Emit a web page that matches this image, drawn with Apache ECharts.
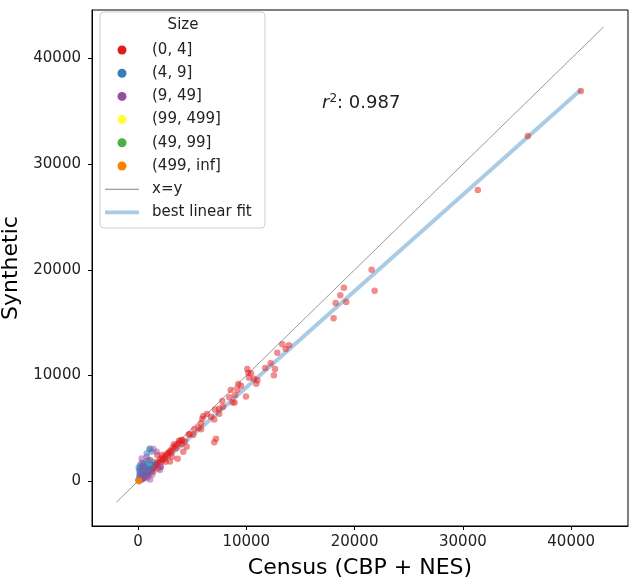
<!DOCTYPE html>
<html>
<head>
<meta charset="utf-8">
<script src="https://cdn.jsdelivr.net/npm/echarts@6/dist/echarts.min.js"></script>
<style>
  html, body { margin: 0; padding: 0; background: #ffffff; }
  #chart { width: 630px; height: 584px; }
</style>
</head>
<body>
<div id="chart"></div>
<script>
// ---------------- data ----------------
const sizeCategories = ['(0, 4]', '(4, 9]', '(9, 49]', '(99, 499]', '(49, 99]', '(499, inf]'];
const categoryColors = ['#e41a1c', '#377eb8', '#984ea3', '#ffff33', '#4daf4a', '#ff7f00'];

const points_0_4 = [
  [40900,36930],[36000,32670],[31380,27560],[21570,20010],[21850,18020],[19010,18310],
  [18680,17590],[18250,16860],[19230,16950],[18060,15410],[13320,12950],[13940,12850],
  [13630,12500],[12860,12150],[11750,10700],[12250,11150],[12650,10610],[12550,10010],
  [10090,10610],[10180,10260],[10430,10200],[10250,9790],[10710,9690],[11020,9540],
  [10920,9220],[9970,8020],[9510,9030],[9260,9190],[9170,8650],[8560,8620],[8430,7930],
  [8950,8120],[8740,7450],[8920,7450],[7780,7580],[7850,7040],[7480,6850],[7110,6790],
  [7500,6370],[7040,5840],[6740,6090],[6030,6160],[5940,5900],[6370,6350],[5820,5460],
  [5570,5080],[5200,4900],[4770,4450],[5110,4380],[5820,4920],[7040,3690],[7200,4010],
  [4340,3760],[4030,3500],[4680,4420],[4090,3880],[3780,3820],[3320,3500],[3510,3100],
  [3660,2110],[3140,2300],[2890,2680],[2490,2140],[2220,2460],[1780,2460],[2030,1830],
  [1570,1520],[1110,1990],[1880,1200],[2090,1360],[2550,1830],[2950,1860],[1420,920],
  [950,570],[650,350],[340,160],[4180,2780],[4490,3250],
  [500,480],[800,760],[1000,1050],[1200,1150],[1400,1300],[1600,1650],[1800,1750],
  [2000,2050],[2200,2150],[2400,2300],[2600,2550],[2800,2700],[3000,2900],[3200,3150],
  [3400,3300],[3600,3500],[3800,3650],[4000,3900],[2300,2000],[2700,2400],[3100,2800],
  [1300,1100],[1700,1500],[900,800],[600,600],[300,320],[200,150],[100,80]
];
const points_4_9 = [
  [1110,3090],[1260,2780],[1040,3000],[800,2620],[950,1990],[1420,1830],[490,1680],
  [340,1350],[180,1520],[650,1350],[1110,1520],[800,1830],[180,1200],[340,880],
  [650,880],[950,1040],[1260,1200],[120,570],[490,570],[30,95],[300,300],[200,700],
  [100,1000],[400,1100],[700,700],[250,400],[550,250],[150,200],[850,1300],[1100,800],
  [600,1600],[1300,1500],[400,1400],[60,1300],[800,1100]
];
const points_9_49 = [
  [340,2150],[1720,2780],[1420,3030],[800,2300],[340,1730],[2030,1040],[1110,160],
  [890,350],[200,900],[500,1300],[700,500],[1300,600],[150,400],[400,200],[1000,1100],[2100,1360]
];
const points_99_499 = [[40,60]];
const points_49_99 = [[60,40]];
const points_499_inf = [[80,30],[60,20],[100,50]];

const identityLine = [[-2000,-2000],[43000,43000]];
const fitLine = [[0,-250],[40900,37050]];
const rSquared = '0.987';

const xTitle = 'Census (CBP + NES)';
const yTitle = 'Synthetic';

// ---------------- chart ----------------
const FONT = 'DejaVu Sans';
const chart = echarts.init(document.getElementById('chart'), null, {renderer: 'canvas'});

const groups = [points_0_4, points_4_9, points_9_49, points_99_499, points_49_99, points_499_inf];
const zOrder = [3, 4, 5, 2, 2, 6];

const scatterSeries = groups.map((d, i) => ({
  name: sizeCategories[i],
  type: 'scatter',
  data: d,
  symbol: 'circle',
  symbolSize: 6.5,
  z: zOrder[i],
  itemStyle: { color: categoryColors[i], opacity: 0.5 },
  emphasis: { disabled: true },
  animation: false
}));

const axisCommon = {
  type: 'value', splitNumber: 5, nameLocation: 'middle',
  nameTextStyle: { fontFamily: FONT, fontSize: 22, color: '#000' },
  axisLine: { onZero: false, lineStyle: { color: '#000', width: 1 } },
  axisTick: { show: true, length: 4, lineStyle: { color: '#000' } },
  splitLine: { show: false }
};

const option = {
  animation: false,
  textStyle: { fontFamily: FONT },
  grid: { left: 92, right: 2, top: 10, bottom: 58, containLabel: false, outerBoundsMode: 'none',
    show: true, borderColor: '#000', borderWidth: 1, backgroundColor: 'transparent' },
  xAxis: Object.assign({}, axisCommon, {
    min: -4250, max: 45250, name: xTitle, nameGap: 31,
    axisLabel: { fontFamily: FONT, fontSize: 15, color: '#222', margin: 9, showMinLabel: false, showMaxLabel: false,
      formatter: v => (v % 10000 === 0 ? String(v) : '') }
  }),
  yAxis: Object.assign({}, axisCommon, {
    min: -4250, max: 44600, name: yTitle, nameGap: 59,
    axisLabel: { fontFamily: FONT, fontSize: 15, color: '#222', margin: 11, showMinLabel: false, showMaxLabel: false,
      formatter: v => (v % 10000 === 0 ? String(v) : '') }
  }),
  legend: {
    orient: 'vertical', left: 105, top: 42, padding: 0,
    itemWidth: 34, itemHeight: 9, itemGap: 7.2,
    data: sizeCategories.map(n => ({ name: n, icon: 'circle', itemStyle: { opacity: 1 } }))
      .concat([
        { name: 'x=y', icon: 'path://M0,0 L32,0 L32,0.8 L0,0.8 Z', itemStyle: { color: '#808080' } },
        { name: 'best linear fit', icon: 'path://M0,0 L35,0 L35,4 L0,4 Z', itemStyle: { color: '#a9cbe5' } }
      ]),
    textStyle: { fontFamily: FONT, fontSize: 15, color: '#222', lineHeight: 16, padding: [0, 0, 0, 8] },
    selectedMode: false
  },
  graphic: [
    { type: 'rect', z: 3, shape: { x: 100, y: 12, width: 165, height: 216, r: 4 },
      style: { fill: 'rgba(255,255,255,0.85)', stroke: '#cfcfcf', lineWidth: 1 } },
    { type: 'text', z: 5, x: 183, y: 25,
      style: { text: 'Size', font: '15px "DejaVu Sans"', fill: '#222', textAlign: 'center', textVerticalAlign: 'middle' } },
    { type: 'text', z: 5, left: 322, top: 93,
      style: { text: '{i|r}{s|2}{n|: ' + rSquared + '}',
        rich: {
          i: { fontFamily: FONT, fontStyle: 'italic', fontSize: 18, fill: '#222' },
          s: { fontFamily: FONT, fontSize: 12, verticalAlign: 'top', padding: [0, 0, 9, 0], fill: '#222' },
          n: { fontFamily: FONT, fontSize: 18, fill: '#222' }
        } } }
  ],
  series: [
    { name: 'x=y', type: 'line', data: identityLine, symbol: 'none', z: 1,
      lineStyle: { color: '#808080', width: 0.8 }, itemStyle: { color: '#808080' }, emphasis: { disabled: true } },
    { name: 'best linear fit', type: 'line', data: fitLine, symbol: 'none', z: 1,
      lineStyle: { color: '#a9cbe5', width: 4 }, itemStyle: { color: '#a9cbe5' }, emphasis: { disabled: true } }
  ].concat(scatterSeries)
};

chart.setOption(option);
</script>
</body>
</html>
